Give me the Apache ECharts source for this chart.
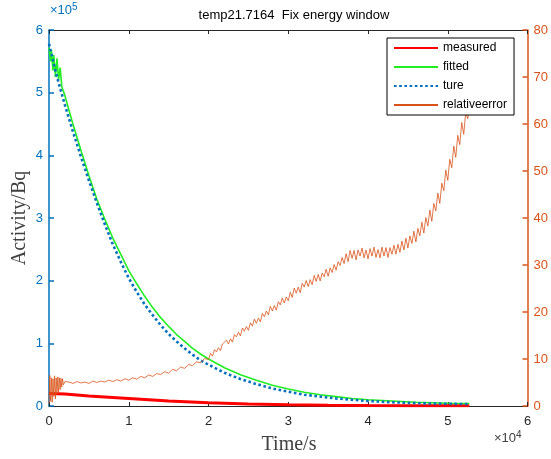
<!DOCTYPE html>
<html>
<head>
<meta charset="utf-8">
<script src="https://cdn.jsdelivr.net/npm/echarts@6/dist/echarts.min.js"></script>
<style>
  html, body { margin: 0; padding: 0; background: #fff; }
  #chart { width: 551px; height: 459px; }
</style>
</head>
<body>
<div id="chart"></div>
<script>
// time in units of 1e4 s, activity in units of 1e5 Bq, error in %
var fittedT = [0, 0.02, 0.03, 0.05, 0.06, 0.08, 0.10, 0.12, 0.14, 0.16, 0.20, 0.25, 0.30, 0.40, 0.50, 0.60, 0.70, 0.80, 0.90, 1.00,
  1.10, 1.20, 1.30, 1.40, 1.50, 1.60, 1.70, 1.80, 1.90, 2.00, 2.20, 2.40, 2.60, 2.80, 3.00, 3.20, 3.40, 3.60, 3.80, 4.00, 4.30, 4.60, 5.00, 5.27];
var fittedV = [5.72, 5.50, 5.68, 5.35, 5.60, 5.25, 5.55, 5.20, 5.40, 5.10, 4.95, 4.72, 4.50, 4.08, 3.68, 3.30, 2.98, 2.68, 2.42, 2.16,
  1.95, 1.75, 1.57, 1.41, 1.27, 1.14, 1.03, 0.92, 0.83, 0.75, 0.61, 0.50, 0.41, 0.33, 0.27, 0.22, 0.18, 0.15, 0.12, 0.10, 0.08, 0.06, 0.045, 0.04];

var tureT = [0, 0.1, 0.2, 0.3, 0.4, 0.5, 0.6, 0.7, 0.8, 0.9, 1.0, 1.1, 1.2, 1.3, 1.4, 1.5, 1.6, 1.7, 1.8, 1.9, 2.0,
  2.2, 2.4, 2.6, 2.8, 3.0, 3.2, 3.4, 3.6, 3.8, 4.0, 4.3, 4.6, 5.0, 5.27];
var tureV = [5.78, 5.25, 4.80, 4.38, 3.98, 3.60, 3.24, 2.90, 2.58, 2.30, 2.04, 1.82, 1.62, 1.45, 1.29, 1.15, 1.03, 0.92, 0.82, 0.73, 0.66,
  0.53, 0.43, 0.35, 0.28, 0.23, 0.18, 0.15, 0.12, 0.10, 0.08, 0.06, 0.045, 0.035, 0.03];

var measuredT = [0, 0.2, 0.5, 1.0, 1.5, 2.0, 2.5, 3.0, 3.5, 4.0, 4.5, 5.0, 5.27];
var measuredV = [0.20, 0.19, 0.16, 0.12, 0.08, 0.05, 0.03, 0.02, 0.012, 0.008, 0.005, 0.003, 0.002];

var errT = [0, 0.01, 0.02, 0.03, 0.04, 0.05, 0.06, 0.07, 0.08, 0.09, 0.10, 0.11, 0.12, 0.13, 0.14, 0.15, 0.16, 0.17, 0.18, 0.20,
  0.25, 0.30, 0.35, 0.40, 0.45, 0.50, 0.55, 0.60, 0.65, 0.70, 0.75, 0.80, 0.85, 0.90, 0.95, 1.00,
  1.05, 1.10, 1.15, 1.20, 1.25, 1.30, 1.35, 1.40, 1.45, 1.50, 1.55, 1.60, 1.65, 1.70, 1.75, 1.80, 1.85, 1.90, 1.95, 2.00,
  2.025, 2.050, 2.075, 2.100, 2.125, 2.150, 2.175, 2.200, 2.225, 2.250, 2.275, 2.300, 2.325, 2.350, 2.375, 2.400,
  2.425, 2.450, 2.475, 2.500, 2.525, 2.550, 2.575, 2.600, 2.625, 2.650, 2.675, 2.700, 2.725, 2.750, 2.775, 2.800,
  2.825, 2.850, 2.875, 2.900, 2.925, 2.950, 2.975, 3.000, 3.025, 3.050, 3.075, 3.100, 3.125, 3.150, 3.175, 3.200,
  3.225, 3.250, 3.275, 3.300, 3.325, 3.350, 3.375, 3.400, 3.425, 3.450, 3.475, 3.500, 3.525, 3.550, 3.575, 3.600,
  3.625, 3.650, 3.675, 3.700, 3.725, 3.750, 3.775, 3.800, 3.825, 3.850, 3.875, 3.900, 3.925, 3.950, 3.975, 4.000,
  4.025, 4.050, 4.075, 4.100, 4.125, 4.150, 4.175, 4.200, 4.225, 4.250, 4.275, 4.300, 4.325, 4.350, 4.375, 4.400,
  4.425, 4.450, 4.475, 4.500, 4.525, 4.550, 4.575, 4.600, 4.625, 4.650, 4.675, 4.700, 4.725, 4.750, 4.775, 4.800,
  4.825, 4.850, 4.875, 4.900, 4.925, 4.950, 4.975, 5.000, 5.025, 5.050, 5.075, 5.100, 5.125, 5.150, 5.175, 5.200,
  5.225, 5.250, 5.270];
var errV = [0.5, 6.5, 1.0, 6.0, 0.8, 5.8, 2.0, 6.4, 1.5, 6.0, 2.5, 6.2, 3.0, 6.0, 3.5, 5.9, 4.0, 5.8, 4.5, 5.2,
  5.1, 4.8, 5.2, 4.9, 5.1, 4.8, 5.3, 5.0, 5.3, 5.1, 5.5, 5.2, 5.6, 5.3, 5.8, 5.5,
  6.0, 5.7, 6.3, 6.0, 6.6, 6.3, 6.9, 6.7, 7.3, 7.0, 7.8, 7.5, 8.3, 8.0, 8.8, 8.6, 9.4, 9.2, 10.1, 9.9,
  11.2, 10.6, 12.0, 11.5, 12.4, 11.8, 13.2, 12.8, 14.0, 13.2, 14.3, 13.6, 15.2, 14.7, 15.7, 14.9,
  16.6, 15.9, 16.9, 16.1, 17.7, 17.0, 18.5, 17.6, 18.7, 17.9, 19.7, 19.0, 20.2, 19.4, 21.2, 20.2,
  21.4, 20.4, 22.2, 21.5, 23.0, 21.9, 23.2, 22.4, 24.2, 23.1, 25.1, 24.0, 25.3, 24.1, 26.1, 25.3,
  26.7, 25.4, 26.9, 25.8, 27.8, 26.5, 28.0, 26.6, 28.3, 27.5, 29.1, 27.6, 29.4, 28.4, 30.1, 28.9,
  30.7, 29.9, 31.6, 30.3, 32.4, 30.7, 33.1, 31.4, 33.1, 31.1, 33.2, 31.9, 33.6, 31.5, 33.2, 31.3,
  33.5, 31.9, 33.8, 31.6, 33.3, 31.5, 33.8, 31.9, 33.7, 31.6, 33.7, 32.3, 34.2, 32.3, 34.4, 32.7,
  35.1, 33.2, 35.7, 33.6, 36.2, 34.6, 37.2, 34.9, 37.8, 36.2, 39.1, 36.8, 40.1, 38.3, 41.7, 39.3,
  43.1, 41.5, 45.3, 43.1, 47.4, 45.8, 50.2, 48.0, 52.5, 50.7, 55.3, 52.9, 57.6, 55.6, 60.3, 57.8,
  62.5, 61.1, 64.0];

var xTicks = [0, 1, 2, 3, 4, 5, 6];

function pairs(t, v) {
  return t.map(function (x, i) { return [x, v[i]]; });
}

var chart = echarts.init(document.getElementById('chart'), null, { renderer: 'canvas' });
var font = 'Liberation Sans, Arial, Helvetica, sans-serif';
var serif = 'Liberation Serif, Times New Roman, serif';

chart.setOption({
  animation: false,
  backgroundColor: '#fff',
  textStyle: { fontFamily: font },
  title: {
    text: 'temp21.7164  Fix energy window',
    left: 289, top: 4, textAlign: 'center',
    textStyle: { fontSize: 13, fontWeight: 'normal', color: '#000', fontFamily: font }
  },
  grid: { left: 49, right: 21, top: 30, bottom: 53, containLabel: false },
  legend: {
    orient: 'vertical',
    left: 387, top: 38,
    itemWidth: 44, itemHeight: 14, itemGap: 7,
    padding: [4, 7, 4, 6],
    borderColor: '#000', borderWidth: 1,
    backgroundColor: '#fff',
    itemStyle: { opacity: 0 },
    textStyle: { fontSize: 12, color: '#000', fontFamily: font },
    data: ['measured', 'fitted', 'ture', 'relativeerror']
  },
  xAxis: [{
    type: 'value', min: 0, max: 6, interval: 1,
    axisLine: { onZero: false, lineStyle: { color: '#262626', width: 1 } },
    axisTick: { inside: true, length: 4, lineStyle: { color: '#262626' } },
    axisLabel: { color: '#262626', fontSize: 13, margin: 9,
      formatter: function (v) { return xTicks.indexOf(v) >= 0 ? String(v) : ''; } },
    splitLine: { show: false }
  }, {
    type: 'value', min: 0, max: 6, interval: 1, position: 'top',
    axisLine: { onZero: false, lineStyle: { color: '#262626', width: 1 } },
    axisTick: { inside: true, length: 4, lineStyle: { color: '#262626' } },
    axisLabel: { show: false },
    splitLine: { show: false }
  }],
  yAxis: [{
    type: 'value', min: 0, max: 6, interval: 1, position: 'left',
    axisLine: { show: true, onZero: false, lineStyle: { color: '#0072BD', width: 1.5 } },
    axisTick: { inside: true, length: 5, lineStyle: { color: '#0072BD', width: 1.5 } },
    axisLabel: { color: '#0072BD', fontSize: 13, margin: 6 },
    splitLine: { show: false }
  }, {
    type: 'value', min: 0, max: 80, interval: 10, position: 'right',
    axisLine: { show: true, onZero: false, lineStyle: { color: '#D95319', width: 1.5 } },
    axisTick: { inside: true, length: 5, lineStyle: { color: '#D95319', width: 1.5 } },
    axisLabel: { color: '#D95319', fontSize: 13, margin: 6 },
    splitLine: { show: false }
  }],
  graphic: [
    { type: 'text', left: 50, top: 2, style: {
      text: '×10{s|5}', fill: '#0072BD', font: '13px ' + font,
      rich: { s: { fontSize: 10, verticalAlign: 'top', padding: [0, 0, 6, 0], fill: '#0072BD' } } } },
    { type: 'text', left: 494, top: 430, style: {
      text: '×10{s|4}', fill: '#404040', font: '13px ' + font,
      rich: { s: { fontSize: 10, verticalAlign: 'top', padding: [0, 0, 6, 0], fill: '#404040' } } } },
    { type: 'text', x: 289, y: 445, style: {
      text: 'Time/s', fill: '#404040', font: '20px ' + serif, align: 'center', verticalAlign: 'middle' } },
    { type: 'text', x: 20, y: 218, rotation: Math.PI / 2, style: {
      text: 'Activity/Bq', fill: '#404040', font: '20px ' + serif, align: 'center', verticalAlign: 'middle' } }
  ],
  series: [{
    name: 'measured', type: 'line', yAxisIndex: 0, showSymbol: false, symbol: 'none',
    data: pairs(measuredT, measuredV),
    lineStyle: { color: '#FF0000', width: 3 }, itemStyle: { color: '#FF0000' }
  }, {
    name: 'fitted', type: 'line', yAxisIndex: 0, showSymbol: false, symbol: 'none',
    data: pairs(fittedT, fittedV),
    lineStyle: { color: '#22EE22', width: 1.6 }, itemStyle: { color: '#22EE22' }
  }, {
    name: 'ture', type: 'line', yAxisIndex: 0, showSymbol: false, symbol: 'none',
    data: pairs(tureT, tureV),
    lineStyle: { color: '#0072BD', width: 2.6, type: [2.6, 2.6] }, itemStyle: { color: '#0072BD' }
  }, {
    name: 'relativeerror', type: 'line', yAxisIndex: 1, showSymbol: false, symbol: 'none',
    data: pairs(errT, errV),
    lineStyle: { color: '#D95319', width: 0.8 }, itemStyle: { color: '#D95319' }
  }]
});
</script>
</body>
</html>
